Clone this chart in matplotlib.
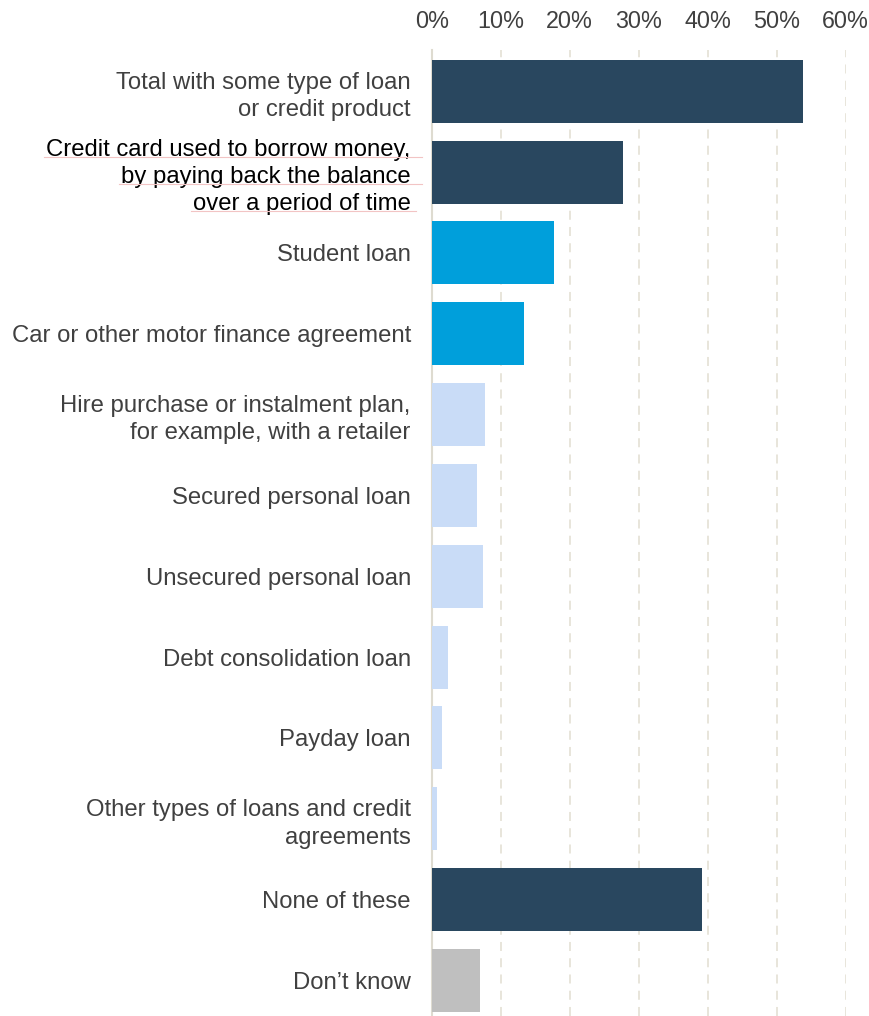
import matplotlib.pyplot as plt
from matplotlib.lines import Line2D
from matplotlib.ticker import FuncFormatter

plt.rcParams['font.family'] = ['Liberation Sans', 'DejaVu Sans']

categories = [
    'Total with some type of loan\nor credit product',
    'Credit card used to borrow money,\nby paying back the balance\nover a period of time',
    'Student loan',
    'Car or other motor finance agreement',
    'Hire purchase or instalment plan,\nfor example, with a retailer',
    'Secured personal loan',
    'Unsecured personal loan',
    'Debt consolidation loan',
    'Payday loan',
    'Other types of loans and credit\nagreements',
    'None of these',
    'Don\u2019t know',
]
values = [53.8, 27.7, 17.7, 13.4, 7.7, 6.6, 7.4, 2.4, 1.5, 0.8, 39.2, 7.0]
groups = ['total', 'total', 'mid', 'mid', 'light', 'light', 'light', 'light',
          'light', 'light', 'total', 'dk']
xticks = [0, 10, 20, 30, 40, 50, 60]

palette = {'total': '#29475f', 'mid': '#009fdb', 'light': '#c9dcf7', 'dk': '#bfbfbf'}

W, H = 870, 1016
fig = plt.figure(figsize=(W / 100, H / 100), dpi=100)
ax = fig.add_axes([431.7 / W, 0, (845.7 - 431.7) / W, 1 - 50 / H])

ypos = list(range(len(categories)))
ax.barh(ypos, values, height=0.78, color=[palette[g] for g in groups], zorder=3)

ax.set_xlim(0, 60)
ax.set_ylim(11.44, -0.51)
ax.set_xticks(xticks)
ax.xaxis.set_major_formatter(FuncFormatter(lambda v, _: f'{v:.0f}%'))
ax.xaxis.tick_top()
ax.tick_params(axis='x', length=0, pad=12, labelsize=16.8, labelcolor='#404040')
ax.set_yticks(ypos)
ax.set_yticklabels(categories, fontsize=17.2, color='#404040', linespacing=1.31)
ax.tick_params(axis='y', length=0, pad=15)
ax.get_yticklabels()[1].set_color('black')

for x in xticks[1:]:
    ax.axvline(x, color='#e6e3d8', lw=1.3, ls=(0, (5, 4)), zorder=1)

for s in ['top', 'right', 'bottom']:
    ax.spines[s].set_visible(False)
ax.spines['left'].set_color('#dedbd0')
ax.spines['left'].set_linewidth(1.5)

# faint spell-check underlines under the credit card label, as in the screenshot
for x0, x1, y in [(44, 422, 157), (119, 422, 184), (191, 416, 211)]:
    fig.add_artist(Line2D([x0 / W, x1 / W], [1 - y / H, 1 - y / H],
                          transform=fig.transFigure, color='#f2c4c4', lw=0.8))

fig.savefig('out.png', dpi=100)
